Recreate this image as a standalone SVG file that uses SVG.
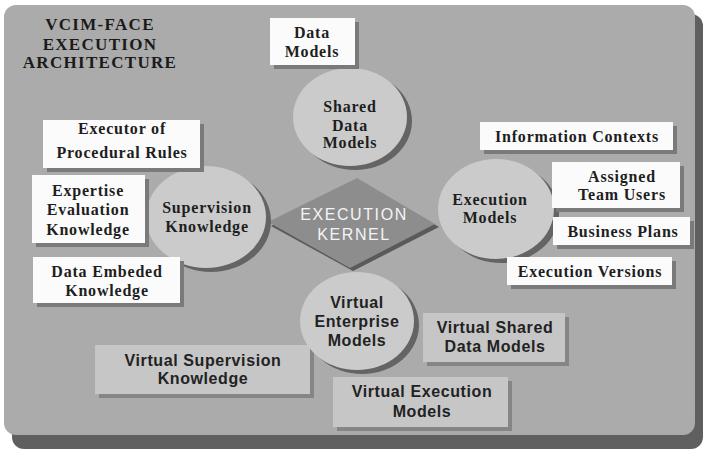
<svg xmlns="http://www.w3.org/2000/svg" width="703" height="449" viewBox="0 0 703 449">
<style>
.serif{font-family:"Liberation Serif","Times New Roman",serif;font-weight:bold;font-size:16px;letter-spacing:0.8px;fill:#1e1e1e;text-anchor:middle}
.title{font-family:"Liberation Serif","Times New Roman",serif;font-weight:bold;font-size:17px;letter-spacing:1.3px;fill:#1a1a1a;text-anchor:middle}
.sans{font-family:"Liberation Sans",Arial,sans-serif;font-weight:bold;font-size:16px;letter-spacing:0.6px;fill:#222;text-anchor:middle}
.kern{font-family:"Liberation Sans",Arial,sans-serif;font-size:16px;letter-spacing:1.6px;fill:#f4f4f4;text-anchor:middle}
.wbox{fill:#fbfbfb}
.wsh{fill:#7a7a7a}
.vbox{fill:#c6c6c6}
.vsh{fill:#858585}
.circ{fill:#cbcbcb}
.csh{fill:#646464}
</style>
<rect x="0" y="0" width="703" height="449" fill="#ffffff"/>
<g id="panel">
<rect x="12" y="14" width="691" height="435" rx="12" fill="#5f5f5f"/>
<rect x="4" y="5" width="691" height="430" rx="12" fill="#ababab"/>
</g>
<g id="title">
<text class="title" x="100" y="30">VCIM-FACE</text>
<text class="title" x="100" y="50">EXECUTION</text>
<text class="title" x="100" y="68">ARCHITECTURE</text>
</g>
<g id="connectors"></g>
<g id="kernel">
<polygon points="271,226 360,181 439,227 353,271" fill="#5a5a5a"/>
<polygon points="268,222 357,178 435,224 350,268" fill="#8d8d8d"/>
<text class="kern" x="354" y="220">EXECUTION</text>
<text class="kern" x="354" y="240">KERNEL</text>
</g>
<g id="shared-data-models">
<ellipse class="csh" cx="355" cy="121" rx="57" ry="49"/>
<ellipse class="circ" cx="350" cy="117" rx="57" ry="49"/>
<text class="serif" x="350" y="112">Shared</text>
<text class="serif" x="350" y="131">Data</text>
<text class="serif" x="350" y="148">Models</text>
</g>
<g id="supervision-knowledge">
<ellipse class="csh" cx="211" cy="221" rx="60" ry="51"/>
<ellipse class="circ" cx="206" cy="217" rx="60" ry="51"/>
<text class="serif" x="207" y="213">Supervision</text>
<text class="serif" x="207" y="232">Knowledge</text>
</g>
<g id="execution-models">
<ellipse class="csh" cx="501" cy="213" rx="58" ry="50"/>
<ellipse class="circ" cx="496" cy="209" rx="58" ry="50"/>
<text class="serif" x="490" y="205">Execution</text>
<text class="serif" x="490" y="223">Models</text>
</g>
<g id="data-models">
<rect class="wsh" x="274" y="22" width="85" height="47"/>
<rect class="wbox" x="270" y="18" width="85" height="47"/>
<text class="serif" x="312" y="38">Data</text>
<text class="serif" x="312" y="57">Models</text>
</g>
<g id="executor-procedural-rules">
<rect class="wsh" x="47" y="124" width="157" height="48"/>
<rect class="wbox" x="43" y="120" width="157" height="48"/>
<text class="serif" x="122" y="134">Executor of</text>
<text class="serif" x="122" y="158">Procedural Rules</text>
</g>
<g id="expertise-evaluation-knowledge">
<rect class="wsh" x="36" y="179" width="113" height="68"/>
<rect class="wbox" x="32" y="175" width="113" height="68"/>
<text class="serif" x="88" y="196">Expertise</text>
<text class="serif" x="88" y="215">Evaluation</text>
<text class="serif" x="88" y="235">Knowledge</text>
</g>
<g id="data-embeded-knowledge">
<rect class="wsh" x="37" y="261" width="147" height="46"/>
<rect class="wbox" x="33" y="257" width="147" height="46"/>
<text class="serif" x="107" y="277">Data Embeded</text>
<text class="serif" x="107" y="296">Knowledge</text>
</g>
<g id="information-contexts">
<rect class="wsh" x="484" y="126" width="193" height="28"/>
<rect class="wbox" x="480" y="122" width="193" height="28"/>
<text class="serif" x="577" y="142">Information Contexts</text>
</g>
<g id="assigned-team-users">
<rect class="wsh" x="556" y="166" width="128" height="46"/>
<rect class="wbox" x="552" y="162" width="128" height="46"/>
<text class="serif" x="622" y="182">Assigned</text>
<text class="serif" x="622" y="200">Team Users</text>
</g>
<g id="business-plans">
<rect class="wsh" x="557" y="221" width="137" height="28"/>
<rect class="wbox" x="553" y="217" width="137" height="28"/>
<text class="serif" x="623" y="237">Business Plans</text>
</g>
<g id="execution-versions">
<rect class="wsh" x="511" y="261" width="165" height="28"/>
<rect class="wbox" x="507" y="257" width="165" height="28"/>
<text class="serif" x="590" y="277">Execution Versions</text>
</g>
<g id="virtual-supervision-knowledge">
<rect class="vsh" x="99" y="349" width="215" height="49"/>
<rect class="vbox" x="95" y="345" width="215" height="49"/>
<text class="sans" x="203" y="366">Virtual Supervision</text>
<text class="sans" x="203" y="384">Knowledge</text>
</g>
<g id="virtual-shared-data-models">
<rect class="vsh" x="427" y="317" width="142" height="49"/>
<rect class="vbox" x="423" y="313" width="142" height="49"/>
<text class="sans" x="495" y="333">Virtual Shared</text>
<text class="sans" x="495" y="352">Data Models</text>
</g>
<g id="virtual-execution-models">
<rect class="vsh" x="337" y="381" width="175" height="50"/>
<rect class="vbox" x="333" y="377" width="175" height="50"/>
<text class="sans" x="422" y="397">Virtual Execution</text>
<text class="sans" x="422" y="417">Models</text>
</g>
<g id="virtual-enterprise-models">
<ellipse class="csh" cx="362" cy="325" rx="57" ry="49"/>
<ellipse class="circ" cx="357" cy="321" rx="57" ry="49"/>
<text class="sans" x="357" y="308">Virtual</text>
<text class="sans" x="357" y="327">Enterprise</text>
<text class="sans" x="357" y="346">Models</text>
</g>
</svg>
